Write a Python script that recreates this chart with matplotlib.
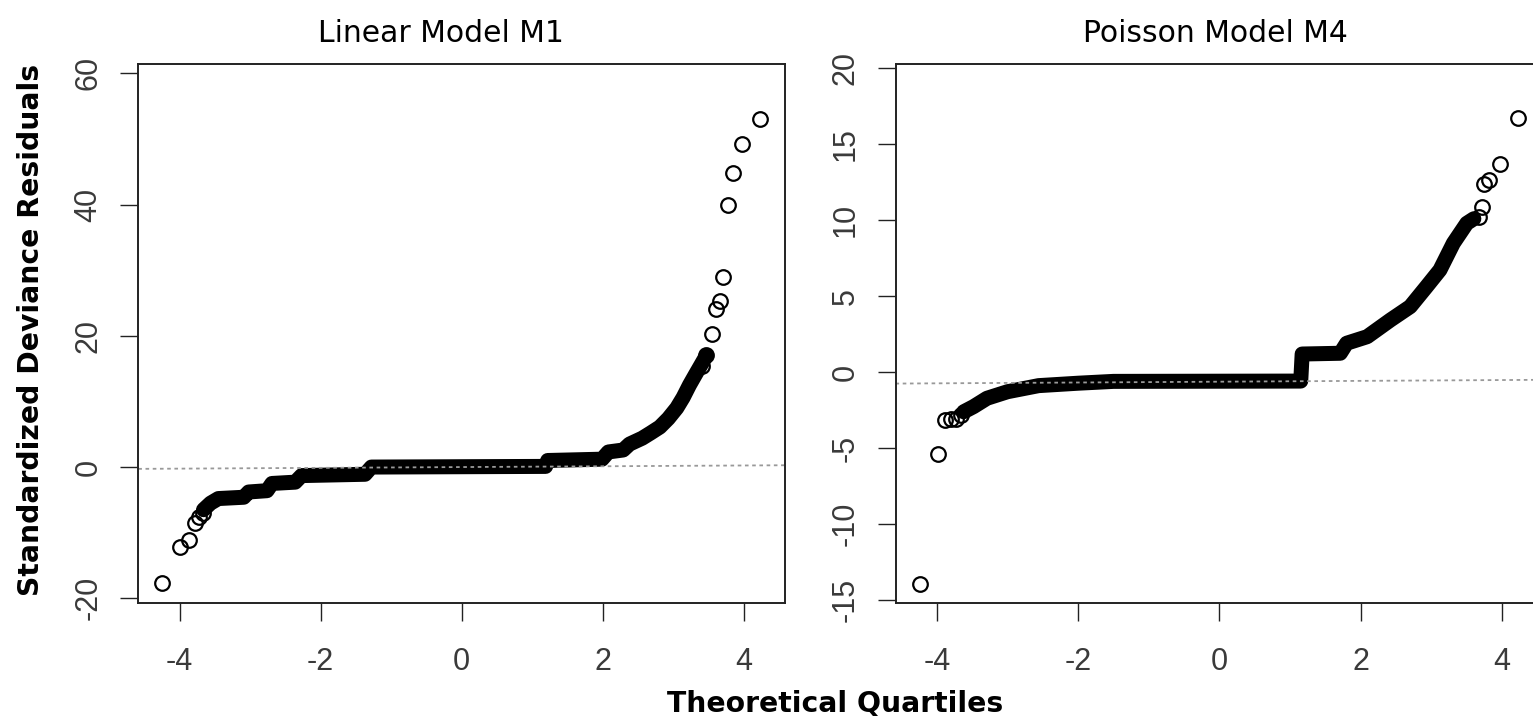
import matplotlib.pyplot as plt

# Linear model M1: isolated points in the tails, and the dense run of
# overlapping points traced as a band through the middle
m1_tail_x = [-4.25, -3.99, -3.86, -3.78, -3.72, -3.67,
             3.41, 3.47, 3.55, 3.60, 3.66, 3.71, 3.77, 3.84, 3.97, 4.23]
m1_tail_y = [-17.7, -12.2, -11.1, -8.6, -7.6, -7.0,
             15.4, 17.0, 20.3, 24.1, 25.3, 29.0, 40.0, 44.8, 49.2, 53.1]
m1_band_x = [-3.66, -3.56, -3.45, -3.09, -3.02, -2.76, -2.69, -2.36, -2.27,
             -1.37, -1.28, 1.19, 1.22, 1.99, 2.08, 2.29, 2.38, 2.56, 2.68,
             2.81, 2.93, 3.05, 3.14, 3.23, 3.32, 3.39, 3.47]
m1_band_y = [-6.5, -5.5, -4.8, -4.6, -3.8, -3.6, -2.5, -2.3, -1.3,
             -1.1, 0.0, 0.1, 1.0, 1.2, 2.3, 2.6, 3.5, 4.4, 5.2,
             6.1, 7.4, 9.0, 10.6, 12.5, 14.2, 15.5, 17.0]
m1_line = (0.0, 0.06)  # qq line: intercept, slope

# Poisson model M4
m4_tail_x = [-4.24, -3.99, -3.88, -3.80, -3.73, -3.66,
             3.67, 3.71, 3.74, 3.81, 3.97, 4.23]
m4_tail_y = [-13.95, -5.4, -3.15, -3.08, -3.1, -2.8,
             10.2, 10.9, 12.4, 12.65, 13.7, 16.7]
m4_band_x = [-3.62, -3.48, -3.29, -3.0, -2.56, -2.0, -1.5, 1.15, 1.17,
             1.71, 1.80, 2.09, 2.42, 2.70, 2.93, 3.12, 3.31, 3.50, 3.60]
m4_band_y = [-2.6, -2.26, -1.71, -1.28, -0.88, -0.72, -0.6, -0.58, 1.2,
             1.25, 1.91, 2.34, 3.44, 4.32, 5.63, 6.73, 8.49, 9.8, 10.1]
m4_line = (-0.62, 0.027)

x_ticks = [-4, -2, 0, 2, 4]
m1_yticks = [-20, 0, 20, 40, 60]
m4_yticks = [-15, -10, -5, 0, 5, 10, 15, 20]

W, H = 1533, 727

plt.rcParams.update({
    "axes.unicode_minus": False,
    "xtick.major.size": 13,
    "ytick.major.size": 13,
    "xtick.major.width": 1.0,
    "ytick.major.width": 1.0,
    "xtick.major.pad": 19,
    "ytick.major.pad": 12,
    "xtick.direction": "out",
    "ytick.direction": "out",
    "xtick.labelsize": 22,
    "ytick.labelsize": 22,
    "xtick.color": "#222222",
    "ytick.color": "#222222",
    "xtick.labelcolor": "#3a3a3a",
    "ytick.labelcolor": "#3a3a3a",
})


def qq_panel(fig, rect, tail_x, tail_y, band_x, band_y, line, yticks, ylim,
             title, title_x):
    ax = fig.add_axes(rect)
    # dense stretch: overlapping open circles merge into a solid band
    ax.plot(band_x, band_y, color="black", lw=10.8,
            solid_capstyle="round", solid_joinstyle="round")
    ax.plot(tail_x, tail_y, "o", ms=10.5, mew=1.6, mfc="none", mec="black")
    ax.axline((0, line[0]), slope=line[1], color="#999999",
              lw=1.3, ls=(0, (2, 2)))

    ax.set_xlim(-4.585, 4.58)
    ax.set_ylim(*ylim)
    ax.set_xticks(x_ticks)
    ax.set_yticks(yticks)
    ax.tick_params(axis="y", labelrotation=90)
    for lab in ax.get_yticklabels():
        lab.set_va("center")
    for lab in ax.get_xticklabels() + ax.get_yticklabels():
        lab.set_family("Liberation Sans")
    for sp in ax.spines.values():
        sp.set_linewidth(1.4)
        sp.set_color("#222222")
    ax.set_title(title, fontsize=21.5, pad=16, x=title_x, family="DejaVu Sans")
    return ax


def main():
    fig = plt.figure(figsize=(W / 100, H / 100), dpi=100)

    bottom = (H - 602.7) / H
    height = (602.7 - 64) / H
    qq_panel(fig, [138.3 / W, bottom, 646.4 / W, height],
             m1_tail_x, m1_tail_y, m1_band_x, m1_band_y, m1_line,
             m1_yticks, (-20.67, 61.42), "Linear Model M1", 0.468)
    qq_panel(fig, [895.5 / W, bottom, 647.6 / W, height],
             m4_tail_x, m4_tail_y, m4_band_x, m4_band_y, m4_line,
             m4_yticks, (-15.16, 20.28), "Poisson Model M4", 0.494)

    fig.text(835 / W, 1 - 704 / H, "Theoretical Quartiles", ha="center",
             va="center", fontsize=20.3, fontweight="bold", family="DejaVu Sans")
    fig.text(31 / W, 1 - 330 / H, "Standardized Deviance Residuals",
             rotation=90, ha="center", va="center", fontsize=20.3,
             fontweight="bold", family="DejaVu Sans")

    fig.savefig("out.png", dpi=100)


if __name__ == "__main__":
    main()
